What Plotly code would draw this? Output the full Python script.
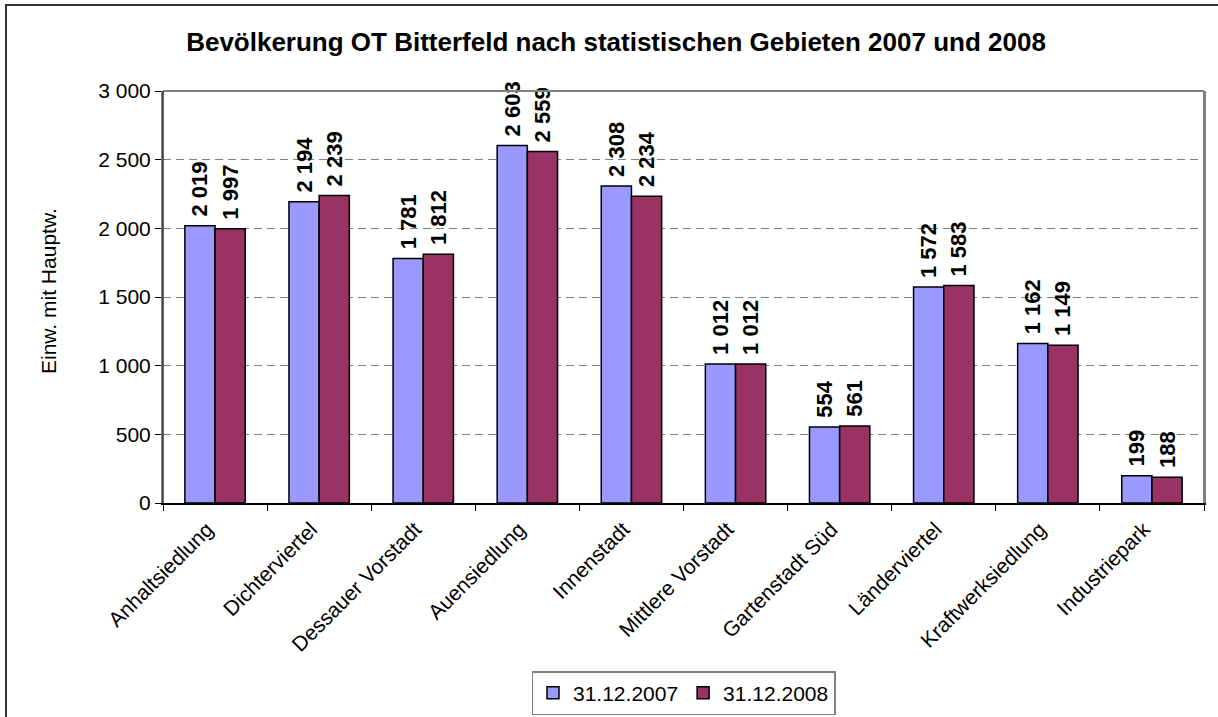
import plotly.graph_objects as go

categories = ["Anhaltsiedlung", "Dichterviertel", "Dessauer Vorstadt", "Auensiedlung",
              "Innenstadt", "Mittlere Vorstadt", "Gartenstadt Süd", "Länderviertel",
              "Kraftwerksiedlung", "Industriepark"]
values_2007 = [2019, 2194, 1781, 2603, 2308, 1012, 554, 1572, 1162, 199]
values_2008 = [1997, 2239, 1812, 2559, 2234, 1012, 561, 1583, 1149, 188]
series_names = ["31.12.2007", "31.12.2008"]
y_ticks = [0, 500, 1000, 1500, 2000, 2500, 3000]

FONT = "Liberation Sans, Arial, sans-serif"
W, H = 1218, 717
L, R, T, B = 163, 1204, 91, 503

fig = go.Figure()
for name, vals, col in [(series_names[0], values_2007, "#9999FF"),
                        (series_names[1], values_2008, "#993366")]:
    fig.add_trace(go.Bar(
        x=categories, y=vals, name=name,
        marker=dict(color=col, line=dict(color="black", width=1.5)),
        text=vals, texttemplate="<b>\u00a0%{y:,}</b>", textposition="outside",
        textangle=-90, textfont=dict(family=FONT, size=22, color="black"),
        cliponaxis=False, constraintext="none",
    ))

def px_x(p):
    return (p - L) / (R - L)

def px_y(p):
    return (B - p) / (B - T)

fig.update_layout(
    width=W, height=H, autosize=False,
    margin=dict(l=L, r=W - R, t=T, b=H - B, pad=0, autoexpand=False),
    paper_bgcolor="white", plot_bgcolor="white",
    separators=", ",
    barmode="group", bargap=0.42, bargroupgap=0,
    font=dict(family=FONT, size=21, color="black"),
    title=dict(text="<b>Bevölkerung OT Bitterfeld nach statistischen Gebieten 2007 und 2008</b>",
               x=616 / W, xanchor="center", y=1 - 42 / H, yanchor="middle",
               font=dict(family=FONT, size=26, color="black")),
    showlegend=True,
    legend=dict(orientation="h", x=0.5, xanchor="center", y=px_y(671), yanchor="top",
                bordercolor="#808080", borderwidth=1.5, font=dict(family=FONT, size=21),
                itemwidth=30, traceorder="normal", tracegroupgap=0),
    shapes=[dict(type="rect", xref="paper", yref="paper",
                 x0=px_x(6), x1=px_x(1225), y0=px_y(5), y1=px_y(725),
                 line=dict(color="#333333", width=2), layer="below")],
    annotations=[dict(text="Einw. mit Hauptw.", xref="paper", yref="paper",
                      x=px_x(48), y=px_y(291), xanchor="center", yanchor="middle",
                      textangle=-90, showarrow=False,
                      font=dict(family=FONT, size=21, color="black"))],
)
fig.update_yaxes(
    range=[0, 3000], tickvals=y_ticks, tickformat=",d",
    showgrid=True, gridcolor="#808080", griddash="8px,5px", gridwidth=1,
    zeroline=False, showline=True, linecolor="#808080", linewidth=2, mirror=True,
    ticks="outside", ticklen=6, tickcolor="black",
    tickfont=dict(family=FONT, size=21),
)
fig.update_xaxes(
    showline=True, linecolor="black", linewidth=1.5, mirror=False,
    ticks="outside", ticklen=6, tickcolor="black", tickson="boundaries",
    tickangle=-45, tickfont=dict(family=FONT, size=21), showgrid=False,
    ticklabelshift=-8, ticklabelstandoff=4,
)
fig.add_shape(type="line", xref="paper", yref="paper", x0=0, x1=1, y0=1, y1=1,
              line=dict(color="#808080", width=2))
fig.add_shape(type="line", xref="paper", yref="paper", x0=1, x1=1, y0=0, y1=1,
              line=dict(color="#808080", width=2))
fig.add_shape(type="line", xref="paper", yref="paper", x0=0, x1=0, y0=0, y1=1,
              line=dict(color="#333333", width=1.5))

fig.write_html("out.html", config={"displayModeBar": False},
               post_script="document.body.style.margin='0';document.body.style.overflow='hidden';")
